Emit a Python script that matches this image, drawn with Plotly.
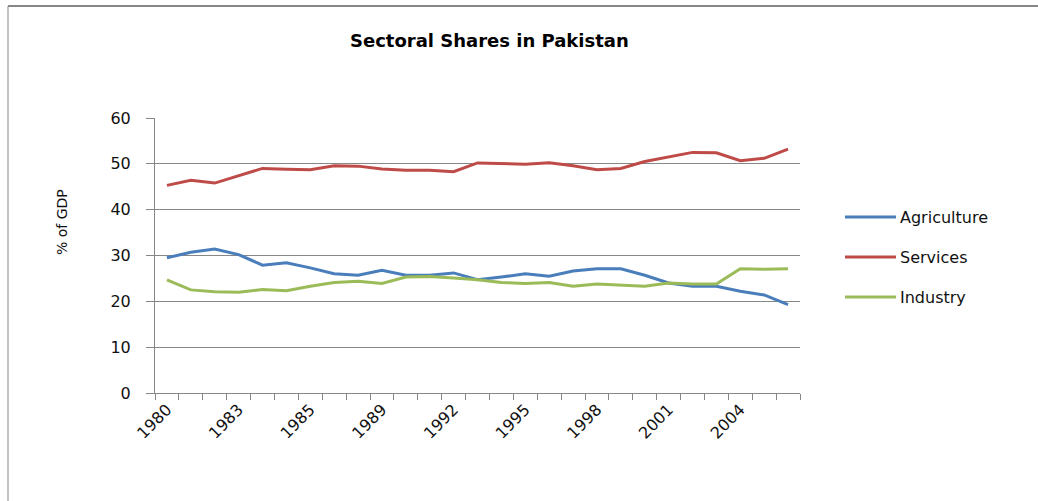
import plotly.graph_objects as go

years = list(range(1980, 2007))
agriculture = [29.5, 30.7, 31.4, 30.2, 27.9, 28.4, 27.3, 26.0, 25.7, 26.8, 25.7, 25.7, 26.2, 24.7,
               25.3, 26.0, 25.5, 26.6, 27.1, 27.1, 25.7, 24.0, 23.3, 23.3, 22.2, 21.4, 19.3]
services = [45.3, 46.4, 45.8, 47.4, 49.0, 48.8, 48.7, 49.6, 49.5, 48.9, 48.6, 48.6, 48.3, 50.2,
            50.0, 49.9, 50.25, 49.6, 48.7, 49.0, 50.5, 51.5, 52.5, 52.4, 50.7, 51.2, 53.2]
industry = [24.7, 22.5, 22.1, 22.0, 22.6, 22.3, 23.3, 24.1, 24.4, 23.9, 25.3, 25.4, 25.1, 24.7,
            24.1, 23.9, 24.1, 23.3, 23.8, 23.6, 23.3, 24.0, 23.8, 23.8, 27.1, 27.0, 27.1]
x_tick_years = [1980, 1983, 1986, 1989, 1992, 1995, 1998, 2001, 2004]
x_tick_labels = ["1980", "1983", "1985", "1989", "1992", "1995", "1998", "2001", "2004"]
y_ticks = [0, 10, 20, 30, 40, 50, 60]

series = [("Agriculture", agriculture, "#4A7EBB"),
          ("Services", services, "#BE4B48"),
          ("Industry", industry, "#9BBB59")]

W, H = 1038, 501
L, R, T, B = 155, 800, 118, 393
FONT = "'DejaVu Sans', sans-serif"
GRAY = "#878787"


def px(x):
    return (x - L) / (R - L)


def py(y):
    return (B - y) / (B - T)


fig = go.Figure()
for name, vals, color in series:
    fig.add_trace(go.Scatter(x=years, y=vals, mode="lines", name=name,
                             line=dict(color=color, width=3), showlegend=False))

shapes = []
annotations = []
# legend drawn manually
legend_y = [217, 257, 297]
for (name, vals, color), ly in zip(series, legend_y):
    shapes.append(dict(type="line", xref="paper", yref="paper", x0=px(845), x1=px(896),
                       y0=py(ly), y1=py(ly), line=dict(color=color, width=3)))
    annotations.append(dict(text=name, xref="paper", yref="paper", x=px(898), y=py(ly),
                            xanchor="left", yanchor="middle", showarrow=False,
                            font=dict(family=FONT, size=16, color="#111")))
# chart border
shapes.append(dict(type="line", xref="paper", yref="paper", x0=px(8), x1=px(1040),
                   y0=py(6), y1=py(6), line=dict(color=GRAY, width=2)))
shapes.append(dict(type="line", xref="paper", yref="paper", x0=px(8), x1=px(8),
                   y0=py(6), y1=py(505), line=dict(color=GRAY, width=1)))
# title and axis title
annotations.append(dict(text="<b>Sectoral Shares in Pakistan</b>", xref="paper", yref="paper",
                        x=px(489), y=py(41), xanchor="center", yanchor="middle", showarrow=False,
                        font=dict(family=FONT, size=18, color="#000")))
annotations.append(dict(text="% of GDP", xref="paper", yref="paper", x=px(62), y=py(222),
                        xanchor="center", yanchor="middle", showarrow=False, textangle=-90,
                        font=dict(family=FONT, size=14, color="#111")))

fig.update_layout(
    width=W, height=H,
    margin=dict(l=L, r=W - R, t=T, b=H - B, pad=0),
    paper_bgcolor="white", plot_bgcolor="white",
    shapes=shapes, annotations=annotations,
    xaxis=dict(range=[1979.5, 2006.5], tickmode="array", tickvals=x_tick_years,
               ticktext=x_tick_labels, tickangle=-45, ticks="", showgrid=False,
               showline=True, linecolor=GRAY, linewidth=1, zeroline=False,
               tickfont=dict(family=FONT, size=16, color="#111"),
               minor=dict(tick0=1979.5, dtick=1, ticks="outside", ticklen=6,
                          tickcolor=GRAY, showgrid=False)),
    yaxis=dict(range=[0, 60], tickmode="array", tickvals=y_ticks, ticks="outside",
               ticklen=8, tickcolor=GRAY, showgrid=True, gridcolor=GRAY, gridwidth=1,
               showline=True, linecolor=GRAY, linewidth=1, zeroline=False,
               ticklabelstandoff=12,
               tickfont=dict(family=FONT, size=16, color="#111")),
)

fig.write_html("out.html", config={"displayModeBar": False},
               post_script="document.body.style.margin='0';")
